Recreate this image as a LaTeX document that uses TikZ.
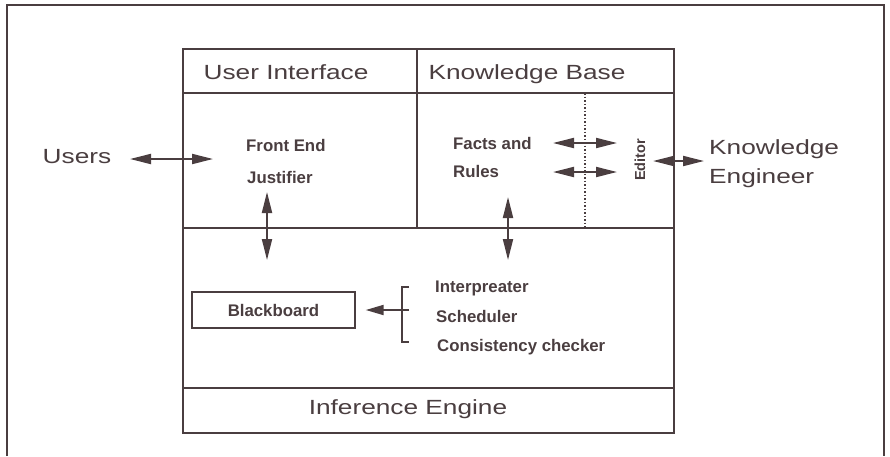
\documentclass[tikz,border=0pt]{standalone}
\usepackage{fontspec}
\setmainfont{Liberation Sans}
\newfontfamily\widefont[FakeStretch=1.28]{Liberation Sans}
\usetikzlibrary{arrows.meta, positioning, calc}
\definecolor{ink}{RGB}{74,62,64}

\begin{document}
\begin{tikzpicture}[x=1pt, y=-1pt,
  every node/.style={text=ink, inner sep=0pt},
  heading/.style={font=\widefont\fontsize{20.5}{29}\selectfont},
  item/.style={font=\bfseries\fontsize{16.8}{20}\selectfont},
  panel/.style={draw=ink, line width=1.9pt},
  dblarr/.style={{Triangle[length=21pt,width=10pt]}-{Triangle[length=21pt,width=10pt]},
                 draw=ink, line width=1.9pt},
  onearr/.style={-{Triangle[length=18pt,width=10pt]}, draw=ink, line width=1.9pt},
]
\useasboundingbox (0,0) rectangle (890,456);
\fill[white] (0,0) rectangle (890,456);

% page frame
\draw[ink, line width=1.2pt] (7,456) -- (7,5) -- (884,5) -- (884,456);

% main box and its panels
\draw[panel] (183,49) rectangle (674,433);
\draw[panel] (183,93) -- (674,93);
\draw[panel] (417,49) -- (417,228);
\draw[panel] (183,228) -- (674,228);
\draw[panel] (183,388) -- (674,388);
\draw[ink, dotted, line width=1.5pt] (585,93) -- (585,228);

% headings
\node[heading, anchor=base] (ui) at (286,79) {User Interface};
\node[heading, anchor=base] (kb) at (527,79) {Knowledge Base};
\node[heading, anchor=base] (ie) at (408,414) {Inference Engine};
\node[heading, anchor=base] (users) at (77,163) {Users};
\node[heading, anchor=north west, align=left] (ke) at (709,139) {Knowledge\\Engineer};

% items
\node[item, anchor=base west] (fe)     at (246,151) {Front End};
\node[item, anchor=base west] (just)   at (247,183) {Justifier};
\node[item, anchor=base west] (facts)  at (453,149) {Facts and};
\node[item, anchor=base west] (rules)  at (453,177) {Rules};
\node[item, anchor=base west] (interp) at (435,292) {Interpreater};
\node[item, anchor=base west] (sched)  at (436,322) {Scheduler};
\node[item, anchor=base west] (cons)   at (437,351) {Consistency checker};
\node[item, draw=ink, line width=1.4pt, minimum width=163pt, minimum height=36pt]
     (bb) at (273.5,310) {Blackboard};
\node[font=\bfseries\fontsize{14.5}{16}\selectfont, rotate=90] (editor) at (640,160) {Editor};

% arrow ends
\coordinate (usersR) at (130,159);
\coordinate (feL)    at (213,159);
\coordinate (uiTop)  at (267,192);
\coordinate (uiBot)  at (267,260);
\coordinate (kbTop)  at (508,197);
\coordinate (kbBot)  at (508,260);
\coordinate (factsR) at (553,143);
\coordinate (edF)    at (617,143);
\coordinate (rulesR) at (553,172);
\coordinate (edR)    at (617,172);
\coordinate (edOut)  at (653,161);
\coordinate (keL)    at (704,161);
\coordinate (brk)    at (409,310);

% connectors
\draw[dblarr] (usersR) -- (feL);
\draw[dblarr] (uiTop) -- (uiBot);
\draw[dblarr] (kbTop) -- (kbBot);
\draw[dblarr] (factsR) -- (edF);
\draw[dblarr] (rulesR) -- (edR);
\draw[dblarr] (edOut) -- (keL);
\draw[ink, line width=1.4pt] (409,287) -- (402,287) -- (402,342) -- (409,342);
\draw[onearr, shorten >=10pt] (brk) -- (bb.east);

\end{tikzpicture}
\end{document}
